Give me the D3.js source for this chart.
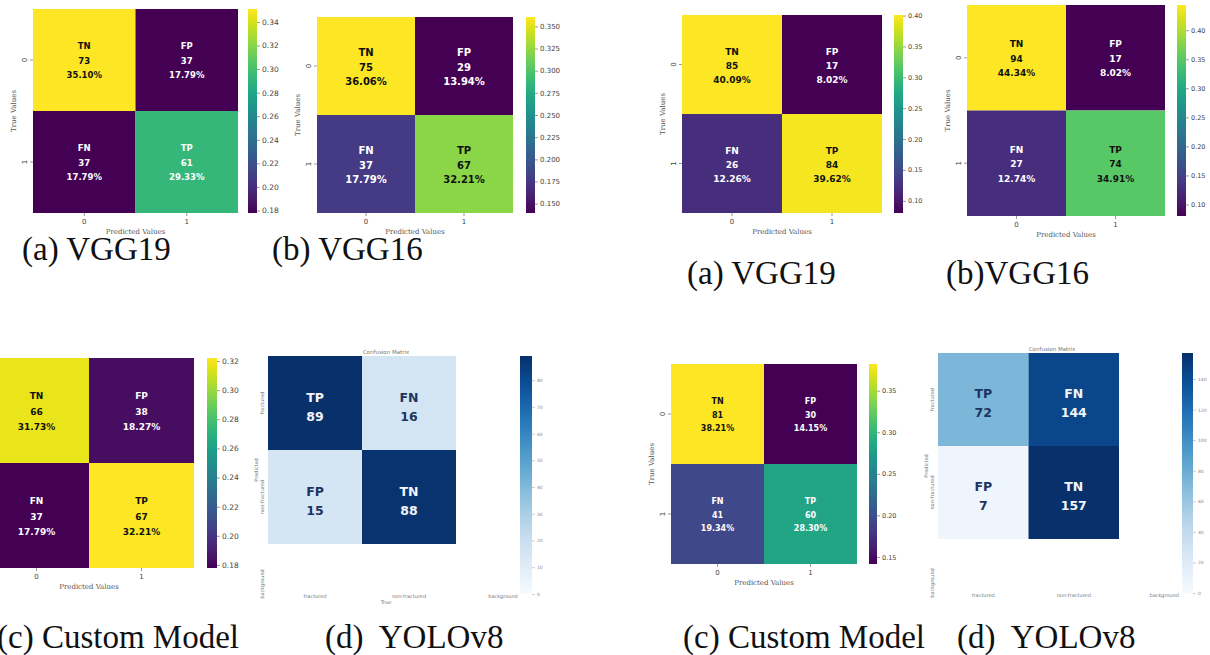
<!DOCTYPE html>
<html lang="en">
<head>
<meta charset="UTF-8">
<title>Confusion matrices</title>
<script src="https://cdn.jsdelivr.net/npm/d3@7"></script>
<style>
  body { margin: 0; background: #fff; }
  svg { display: block; }
  .cell-text { font-family: "DejaVu Sans", sans-serif; font-weight: bold; }
  .tick text { font-family: "DejaVu Sans", sans-serif; fill: #444; }
  .tick line { stroke: #555; stroke-width: 0.6; }
  .axis-label { font-family: "DejaVu Serif", serif; fill: #555; }
  .tiny { font-family: "DejaVu Sans", sans-serif; fill: #777; }
  .caption { font-family: "Liberation Serif", "Times New Roman", serif; font-size: 33px; fill: #111; white-space: pre; }
</style>
</head>
<body>
<div id="container"></div>
<script>
// ---- data ----
var binaryTicks = ["0", "1"];
var binaryTags = ["TN", "FP", "FN", "TP"];
var yoloClasses = ["fractured", "non-fractured", "background"];
var yoloTags = ["TP", "FN", "FP", "TN"];

var vgg19LeftCounts = [73, 37, 37, 61];
var vgg16LeftCounts = [75, 29, 37, 67];
var customLeftCounts = [66, 38, 37, 67];
var yoloLeftCounts = [89, 16, 15, 88];
var vgg19RightCounts = [85, 17, 26, 84];
var vgg16RightCounts = [94, 17, 27, 74];
var customRightCounts = [81, 30, 41, 60];
var yoloRightCounts = [72, 144, 7, 157];

var vgg19LeftBarTicks = [0.18, 0.20, 0.22, 0.24, 0.26, 0.28, 0.30, 0.32, 0.34];
var vgg16LeftBarTicks = [0.150, 0.175, 0.200, 0.225, 0.250, 0.275, 0.300, 0.325, 0.350];
var customLeftBarTicks = [0.18, 0.20, 0.22, 0.24, 0.26, 0.28, 0.30, 0.32];
var yoloLeftBarTicks = [0, 10, 20, 30, 40, 50, 60, 70, 80];
var vgg19RightBarTicks = [0.10, 0.15, 0.20, 0.25, 0.30, 0.35, 0.40];
var vgg16RightBarTicks = [0.10, 0.15, 0.20, 0.25, 0.30, 0.35, 0.40];
var customRightBarTicks = [0.15, 0.20, 0.25, 0.30, 0.35];
var yoloRightBarTicks = [0, 20, 40, 60, 80, 100, 120, 140];

var captions = ["(a) VGG19", "(b) VGG16", "(c) Custom Model", "(d)  YOLOv8",
                "(a) VGG19", "(b)VGG16", "(c) Custom Model", "(d)  YOLOv8"];

// ---- layout ----
var panels = [
  { kind: "viridis", counts: vgg19LeftCounts, barTicks: vgg19LeftBarTicks, fmt: ".2f",
    x: 33, y: 9, w: 205, h: 204, cbx: 248, cbw: 9, font: 8.5, gap: 14.5, tickFont: 7.5,
    caption: captions[0], capX: 22, capY: 260 },
  { kind: "viridis", counts: vgg16LeftCounts, barTicks: vgg16LeftBarTicks, fmt: ".3f",
    x: 317, y: 17, w: 196, h: 196, cbx: 526, cbw: 9, font: 10, gap: 14.5, tickFont: 7,
    caption: captions[1], capX: 272, capY: 260 },
  { kind: "viridis", counts: customLeftCounts, barTicks: customLeftBarTicks, fmt: ".2f",
    x: -16, y: 358, w: 210, h: 210, cbx: 207, cbw: 10, font: 9, gap: 15.5, tickFont: 7.5,
    hideY: true, caption: captions[2], capX: -3, capY: 648 },
  { kind: "blues", counts: yoloLeftCounts, barTicks: yoloLeftBarTicks,
    x: 268, y: 356, cw: 94, ch: 94, visW: 236, visH: 238, cbx: 520, cbw: 12, font: 12.5, gap: 19,
    showTrue: true, caption: captions[3], capX: 325, capY: 648 },
  { kind: "viridis", counts: vgg19RightCounts, barTicks: vgg19RightBarTicks, fmt: ".2f",
    x: 682, y: 15, w: 200, h: 198, cbx: 894, cbw: 9, font: 9, gap: 14, tickFont: 6.5,
    caption: captions[4], capX: 687, capY: 284 },
  { kind: "viridis", counts: vgg16RightCounts, barTicks: vgg16RightBarTicks, fmt: ".2f",
    x: 967, y: 5, w: 198, h: 211, cbx: 1177, cbw: 9, font: 9, gap: 14.5, tickFont: 6.5,
    caption: captions[5], capX: 946, capY: 284 },
  { kind: "viridis", counts: customRightCounts, barTicks: customRightBarTicks, fmt: ".2f",
    x: 671, y: 364, w: 186, h: 200, cbx: 869, cbw: 8, font: 8, gap: 13.5, tickFont: 6.5,
    caption: captions[6], capX: 683, capY: 648 },
  { kind: "blues", counts: yoloRightCounts, barTicks: yoloRightBarTicks,
    x: 938, y: 353, cw: 90.5, ch: 93, visW: 228, visH: 240, cbx: 1182, cbw: 11, font: 12.5, gap: 19,
    showTrue: false, caption: captions[7], capX: 957, capY: 648 }
];

var width = 1210, height = 655;
var svg = d3.select("#container").append("svg")
  .attr("width", width).attr("height", height);
svg.append("rect").attr("width", width).attr("height", height).attr("fill", "#fff");
var defs = svg.append("defs");

function luminance(c) {
  var rgb = d3.rgb(c);
  function lin(v) { v = v / 255; return v <= 0.03928 ? v / 12.92 : Math.pow((v + 0.055) / 1.055, 2.4); }
  return 0.2126 * lin(rgb.r) + 0.7152 * lin(rgb.g) + 0.0722 * lin(rgb.b);
}

function colorbar(g, p, idx, interp, scale, top, h, fmt) {
  var id = "cb" + idx;
  var grad = defs.append("linearGradient").attr("id", id)
    .attr("x1", 0).attr("y1", 1).attr("x2", 0).attr("y2", 0);
  for (var t = 0; t <= 1.0001; t += 0.05) {
    grad.append("stop").attr("offset", t).attr("stop-color", interp(t));
  }
  g.append("rect").attr("x", p.cbx).attr("y", top)
    .attr("width", p.cbw).attr("height", h)
    .attr("fill", "url(#" + id + ")");
  var ax = g.append("g").attr("transform", "translate(" + (p.cbx + p.cbw) + ",0)")
    .call(d3.axisRight(scale).tickValues(p.barTicks).tickFormat(fmt).tickSize(3).tickPadding(2));
  ax.select(".domain").remove();
  return ax;
}

function drawViridis(p, idx) {
  var g = svg.append("g");
  var total = d3.sum(p.counts);
  var fracs = p.counts.map(function(c) { return c / total; });
  var color = d3.scaleSequential(d3.interpolateViridis).domain(d3.extent(fracs));
  var xs = d3.scaleBand().domain(binaryTicks).range([p.x, p.x + p.w]);
  var ys = d3.scaleBand().domain(binaryTicks).range([p.y, p.y + p.h]);

  var cells = binaryTags.map(function(tag, i) {
    return { tag: tag, count: p.counts[i], frac: fracs[i],
             row: binaryTicks[Math.floor(i / 2)], col: binaryTicks[i % 2] };
  });

  g.selectAll("rect.cell").data(cells).enter().append("rect")
    .attr("class", "cell")
    .attr("x", function(d) { return xs(d.col); })
    .attr("y", function(d) { return ys(d.row); })
    .attr("width", xs.bandwidth())
    .attr("height", ys.bandwidth())
    .attr("fill", function(d) { return color(d.frac); });

  var txt = g.selectAll("text.cell-text").data(cells).enter().append("text")
    .attr("class", "cell-text")
    .attr("text-anchor", "middle")
    .attr("font-size", p.font)
    .attr("fill", function(d) { return luminance(color(d.frac)) > 0.408 ? "#111" : "#fff"; });
  var lines = [
    function(d) { return d.tag; },
    function(d) { return d.count; },
    function(d) { return (d.frac * 100).toFixed(2) + "%"; }
  ];
  lines.forEach(function(f, k) {
    txt.append("tspan")
      .attr("x", function(d) { return xs(d.col) + xs.bandwidth() / 2; })
      .attr("y", function(d) { return ys(d.row) + ys.bandwidth() / 2 + 1 + (k - 1) * p.gap; })
      .attr("dy", "0.35em")
      .text(f);
  });

  // axes
  if (!p.hideY) {
    var yAx = g.append("g").attr("transform", "translate(" + p.x + ",0)")
      .call(d3.axisLeft(ys).tickSize(3));
    yAx.select(".domain").remove();
    yAx.attr("font-size", 7);
    yAx.selectAll(".tick text")
      .attr("x", 0).attr("dy", "0.35em")
      .attr("text-anchor", "middle")
      .attr("transform", "translate(-8,0) rotate(-90)");
    g.append("text").attr("class", "axis-label")
      .attr("transform", "translate(" + (p.x - 19) + "," + (p.y + p.h / 2) + ") rotate(-90)")
      .attr("dy", "0.35em").attr("text-anchor", "middle")
      .attr("font-size", 7).text("True Values");
  }

  var xAx = g.append("g").attr("transform", "translate(0," + (p.y + p.h) + ")")
    .call(d3.axisBottom(xs).tickSize(3));
  xAx.select(".domain").remove();
  xAx.attr("font-size", 7);

  g.append("text").attr("class", "axis-label")
    .attr("x", p.x + p.w / 2).attr("y", p.y + p.h + 19)
    .attr("dy", "0.35em").attr("text-anchor", "middle")
    .attr("font-size", 7).text("Predicted Values");

  var cbScale = d3.scaleLinear().domain(color.domain()).range([p.y + p.h, p.y]);
  var cb = colorbar(g, p, idx, d3.interpolateViridis, cbScale, p.y, p.h, d3.format(p.fmt));
  cb.attr("font-size", p.tickFont);
}

function drawBlues(p, idx) {
  var g = svg.append("g");
  var vmax = d3.max(p.counts);
  var color = d3.scaleSequential(d3.interpolateBlues).domain([0, vmax]);
  var xs = d3.scaleBand().domain(yoloClasses).range([p.x, p.x + 3 * p.cw]);
  var ys = d3.scaleBand().domain(yoloClasses).range([p.y, p.y + 3 * p.ch]);

  var cells = yoloTags.map(function(tag, i) {
    return { tag: tag, count: p.counts[i],
             row: yoloClasses[Math.floor(i / 2)], col: yoloClasses[i % 2] };
  });

  g.selectAll("rect.cell").data(cells).enter().append("rect")
    .attr("class", "cell")
    .attr("x", function(d) { return xs(d.col); })
    .attr("y", function(d) { return ys(d.row); })
    .attr("width", xs.bandwidth())
    .attr("height", ys.bandwidth())
    .attr("fill", function(d) { return color(d.count); });

  var txt = g.selectAll("text.cell-text").data(cells).enter().append("text")
    .attr("class", "cell-text")
    .attr("text-anchor", "middle")
    .attr("font-size", p.font)
    .attr("fill", function(d) { return luminance(color(d.count)) > 0.408 ? "#1d3461" : "#f2f5fa"; });
  [function(d) { return d.tag; }, function(d) { return d.count; }].forEach(function(f, k) {
    txt.append("tspan")
      .attr("x", function(d) { return xs(d.col) + xs.bandwidth() / 2; })
      .attr("y", function(d) { return ys(d.row) + ys.bandwidth() / 2 + 4 + (k - 0.5) * p.gap; })
      .attr("dy", "0.35em")
      .text(f);
  });

  var bottom = p.y + p.visH;
  // tiny tick labels, title and axis names
  g.selectAll("text.xlab").data(yoloClasses).enter().append("text")
    .attr("class", "tiny").attr("font-size", 5).attr("text-anchor", "middle")
    .attr("x", function(d) { return xs(d) + xs.bandwidth() / 2; })
    .attr("y", bottom + 4).text(function(d) { return d; });
  g.selectAll("text.ylab").data(yoloClasses).enter().append("text")
    .attr("class", "tiny").attr("font-size", 5).attr("text-anchor", "middle")
    .attr("transform", function(d) {
      var yy = Math.min(ys(d) + ys.bandwidth() / 2, bottom - 10);
      return "translate(" + (p.x - 4) + "," + yy + ") rotate(-90)";
    })
    .text(function(d) { return d; });
  g.append("text").attr("class", "tiny").attr("font-size", 5).attr("text-anchor", "middle")
    .attr("transform", "translate(" + (p.x - 10) + "," + (p.y + p.ch + 20) + ") rotate(-90)")
    .text("Predicted");
  g.append("text").attr("class", "tiny").attr("font-size", 5.5).attr("text-anchor", "middle")
    .attr("x", p.x + p.visW / 2).attr("y", p.y - 2).text("Confusion Matrix");
  if (p.showTrue) {
    g.append("text").attr("class", "tiny").attr("font-size", 5).attr("text-anchor", "middle")
      .attr("x", p.x + p.visW / 2).attr("y", bottom + 10).text("True");
  }

  var cbScale = d3.scaleLinear().domain([0, vmax]).range([bottom, p.y]);
  var cb = colorbar(g, p, idx, d3.interpolateBlues, cbScale, p.y, p.visH, d3.format("d"));
  cb.attr("font-size", 4.5);
  cb.selectAll(".tick line").style("stroke", "#aaa");
  cb.selectAll(".tick text").style("fill", "#888");
}

panels.forEach(function(p, i) {
  if (p.kind === "viridis") drawViridis(p, i);
  else drawBlues(p, i);
  svg.append("text").attr("class", "caption")
    .attr("x", p.capX).attr("y", p.capY).text(p.caption);
});
</script>
</body>
</html>
